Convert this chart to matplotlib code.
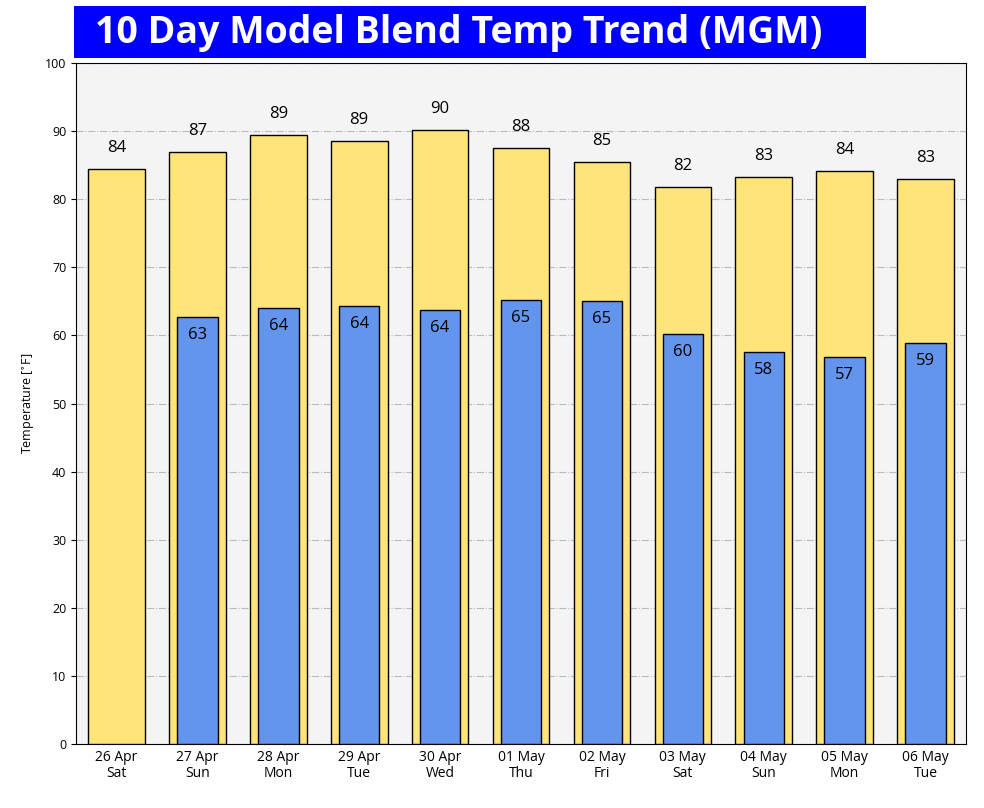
import matplotlib
matplotlib.use('Agg')
import matplotlib.pyplot as plt
from matplotlib.patches import Rectangle

plt.rcParams['font.family'] = ['Open Sans', 'DejaVu Sans']

# data
dates = ['26 Apr', '27 Apr', '28 Apr', '29 Apr', '30 Apr', '01 May',
         '02 May', '03 May', '04 May', '05 May', '06 May']
days = ['Sat', 'Sun', 'Mon', 'Tue', 'Wed', 'Thu', 'Fri', 'Sat', 'Sun', 'Mon', 'Tue']
highs = [84.4, 86.9, 89.4, 88.6, 90.2, 87.5, 85.4, 81.8, 83.3, 84.1, 83.0]
lows = [None, 62.7, 64.0, 64.3, 63.7, 65.2, 65.1, 60.2, 57.6, 56.8, 58.9]

fig = plt.figure(figsize=(9.84, 8.08), dpi=100)
ax = fig.add_axes([76/984, 1 - 744/808, 890/984, 681/808])
ax.set_facecolor('#f4f4f4')

x = list(range(len(dates)))
ax.bar(x, highs, width=0.7, color='#ffe47a', edgecolor='black', linewidth=1, zorder=3)
for i, h in enumerate(highs):
    ax.text(i, h + 1.9, f'{round(h):d}', ha='center', va='bottom', fontsize=12, zorder=5)

lx = [i for i, v in enumerate(lows) if v is not None]
lv = [v for v in lows if v is not None]
ax.bar(lx, lv, width=0.5, color='#6495ed', edgecolor='black', linewidth=1, zorder=4)
for i, v in zip(lx, lv):
    ax.text(i, v - 1.5, f'{round(v):d}', ha='center', va='top', fontsize=12, zorder=5)

ax.set_xlim(-0.5, len(dates) - 0.5)
ax.set_ylim(0, 100)
ax.set_yticks(range(0, 101, 10))
ax.set_xticks(x)
ax.set_xticklabels([f'{d}\n{w}' for d, w in zip(dates, days)], fontsize=10, linespacing=1.1)
ax.tick_params(axis='y', labelsize=9)
ax.tick_params(axis='x', length=0, pad=4)
ax.grid(axis='y', linestyle='-.', color='#bbbbbb', linewidth=0.8, zorder=0)
ax.set_ylabel('Temperature [$^{\\circ}$F]', fontsize=9, labelpad=6)

# title banner
fig.patches.append(Rectangle((74/984, 1 - 58/808), 792/984, 52/808,
                             transform=fig.transFigure, facecolor='#0000ff',
                             edgecolor='none', zorder=10))
fig.text(95/984, 1 - 33/808, '10 Day Model Blend Temp Trend (MGM)', color='white',
         fontsize=27, fontweight='bold', ha='left', va='center', zorder=11)

fig.savefig('out.png', dpi=100)
